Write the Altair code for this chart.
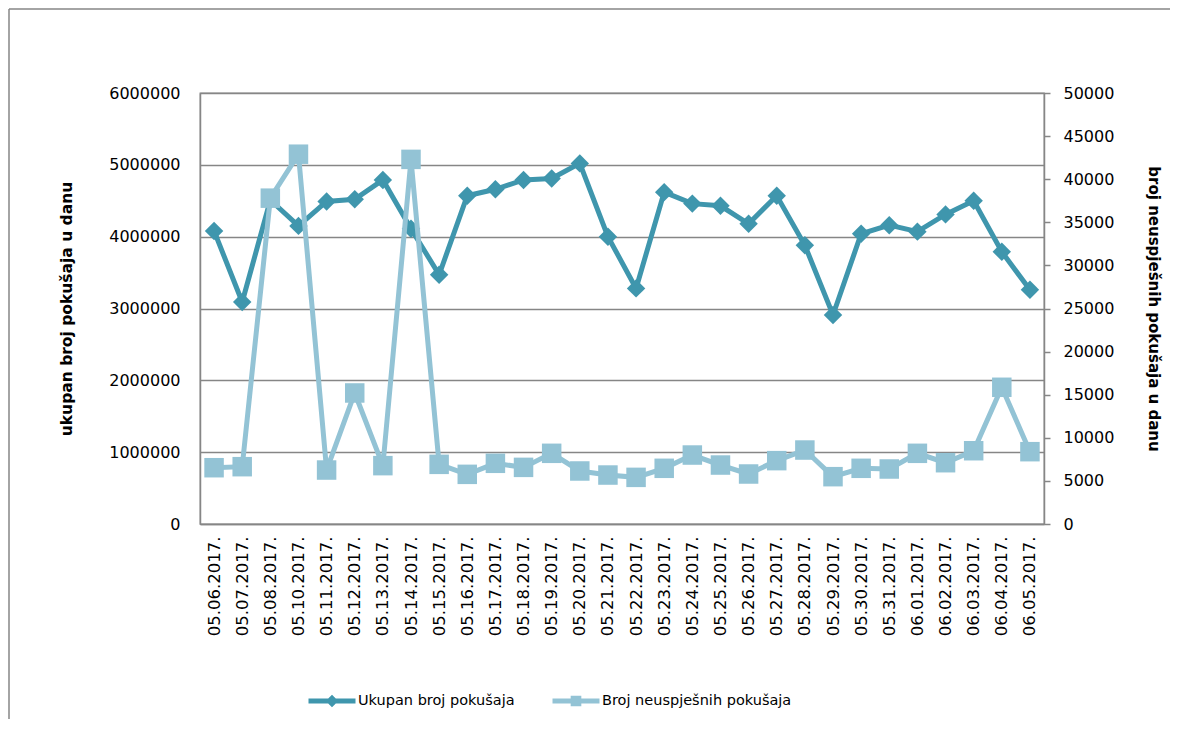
import altair as alt
import pandas as pd

dates = ["05.06.2017.", "05.07.2017.", "05.08.2017.", "05.10.2017.", "05.11.2017.",
         "05.12.2017.", "05.13.2017.", "05.14.2017.", "05.15.2017.", "05.16.2017.",
         "05.17.2017.", "05.18.2017.", "05.19.2017.", "05.20.2017.", "05.21.2017.",
         "05.22.2017.", "05.23.2017.", "05.24.2017.", "05.25.2017.", "05.26.2017.",
         "05.27.2017.", "05.28.2017.", "05.29.2017.", "05.30.2017.", "05.31.2017.",
         "06.01.2017.", "06.02.2017.", "06.03.2017.", "06.04.2017.", "06.05.2017."]

ukupan = [4080000, 3090000, 4510000, 4150000, 4490000, 4520000, 4790000, 4110000, 3470000, 4570000,
          4660000, 4790000, 4810000, 5020000, 4000000, 3280000, 4620000, 4460000, 4430000, 4180000,
          4570000, 3880000, 2910000, 4040000, 4160000, 4070000, 4310000, 4500000, 3790000, 3260000]

neuspjesni = [6530, 6650, 37800, 42900, 6260, 15200, 6770, 42300, 6920, 5760,
              7040, 6570, 8200, 6150, 5680, 5410, 6460, 8000, 6840, 5800,
              7350, 8580, 5490, 6460, 6380, 8200, 7110, 8500, 15860, 8390]

series_names = ["Ukupan broj pokušaja", "Broj neuspješnih pokušaja"]
left_title = "ukupan broj pokušaja u danu"
right_title = "broj neuspješnih pokušaja u danu"
left_ticks = [0, 1000000, 2000000, 3000000, 4000000, 5000000, 6000000]
right_ticks = [0, 5000, 10000, 15000, 20000, 25000, 30000, 35000, 40000, 45000, 50000]

DARK = "#3F96AD"
LIGHT = "#93C3D5"
GRAY = "#868686"
FONT = "DejaVu Sans"

df = pd.DataFrame({"datum": dates, "ukupan": ukupan, "neusp": neuspjesni,
                   "s1": series_names[0], "s2": series_names[1]})

PATH_D = "M-1,0L1,0M0,-0.12L0.12,0L0,0.12L-0.12,0Z"
PATH_S = "M-1,0L1,0M-0.12,-0.12L0.12,-0.12L0.12,0.12L-0.12,0.12Z"

x_enc = alt.X("datum:N", sort=dates, title=None,
              axis=alt.Axis(labelAngle=-90, labelAlign="right", labelBaseline="middle",
                            labelFont=FONT, labelFontSize=16.5, labelColor="#000000",
                            labelPadding=12, ticks=False, domainColor=GRAY, domainWidth=1.5,
                            labelOverlap=False, grid=False))

y_left = alt.Y("ukupan:Q", scale=alt.Scale(domain=[0, 6000000]), title=left_title,
               axis=alt.Axis(values=left_ticks, format="d", grid=True, gridColor=GRAY,
                             gridWidth=1.3, ticks=False, domainColor=GRAY, domainWidth=1.5,
                             labelFont=FONT, labelFontSize=16, labelColor="#000000",
                             labelPadding=20, titleFont=FONT, titleFontSize=15.5,
                             titleFontWeight="bold", titleColor="#000000", titlePadding=34))

y_right = alt.Y("neusp:Q", scale=alt.Scale(domain=[0, 50000]), title=right_title,
                axis=alt.Axis(orient="right", values=right_ticks, format="d", grid=False,
                              ticks=True, tickSize=6, tickColor=GRAY, tickWidth=1.5,
                              domainColor=GRAY, domainWidth=1.5,
                              labelFont=FONT, labelFontSize=16, labelColor="#000000",
                              labelPadding=13, titleFont=FONT, titleFontSize=15,
                              titleFontWeight="bold", titleColor="#000000", titlePadding=32))

base = alt.Chart(df)

line_dark = base.mark_line(strokeWidth=5, strokeJoin="miter").encode(
    x=x_enc, y=y_left,
    color=alt.Color("s1:N", scale=alt.Scale(domain=[series_names[0]], range=[DARK]),
                    legend=alt.Legend(orient="none", legendX=106, legendY=582, title=None,
                                      symbolType=PATH_D, symbolSize=2209, symbolStrokeWidth=5,
                                      labelFont=FONT, labelFontSize=14.5, labelColor="#000000",
                                      labelOffset=0, labelLimit=500, padding=0)))
pts_dark = base.mark_point(shape="diamond", filled=True, size=340, opacity=1, color=DARK).encode(
    x=x_enc, y=y_left)

line_light = base.mark_line(strokeWidth=5, strokeJoin="miter").encode(
    x=x_enc, y=y_right,
    color=alt.Color("s2:N", scale=alt.Scale(domain=[series_names[1]], range=[LIGHT]),
                    legend=alt.Legend(orient="none", legendX=350, legendY=582, title=None,
                                      symbolType=PATH_S, symbolSize=2209, symbolStrokeWidth=5,
                                      labelFont=FONT, labelFontSize=14.5, labelColor="#000000",
                                      labelOffset=0, labelLimit=500, padding=0)))
pts_light = base.mark_point(shape="square", filled=True, size=380, opacity=1, color=LIGHT).encode(
    x=x_enc, y=y_right)

frame = alt.Chart(alt.Data(values=[{"a": 1}])).mark_rule(color=GRAY, strokeWidth=1.5)
frame_top = frame.encode(x=alt.value(-191), x2=alt.value(970), y=alt.value(-84), y2=alt.value(-84))
frame_left = frame.encode(x=alt.value(-191), x2=alt.value(-191), y=alt.value(-84), y2=alt.value(640))

dark = alt.layer(line_dark, pts_dark)
light = alt.layer(line_light, pts_light)

chart = alt.layer(dark, light, frame_top, frame_left).resolve_scale(
    y="independent", color="independent"
).properties(
    width=844, height=431,
    autosize=alt.AutoSizeParams(type="none"),
    padding={"left": 192, "top": 85, "right": 126, "bottom": 195},
    background="#ffffff"
).configure_view(stroke=GRAY, strokeWidth=1.3)

chart.save("out.html", embed_options={"renderer": "svg", "actions": False})
